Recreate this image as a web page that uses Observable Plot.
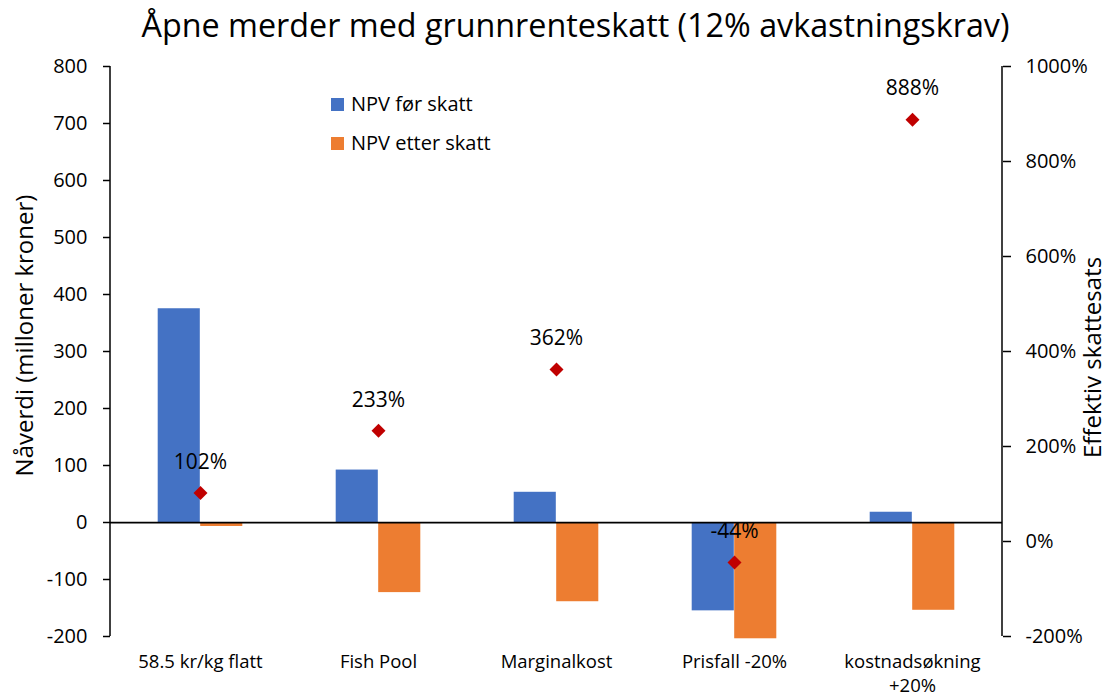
<!DOCTYPE html>
<html><head><meta charset="utf-8">
<script src="https://cdn.jsdelivr.net/npm/d3@7"></script>
<script src="https://cdn.jsdelivr.net/npm/@observablehq/plot@0.6"></script>
<style>
body{margin:0;background:#fff;font-family:"Open Sans",sans-serif;color:#000;}
#wrap{position:relative;width:1109px;height:698px;overflow:hidden;}
#title{position:relative;left:21px;height:52px;text-align:center;font-size:32.3px;line-height:49px;white-space:nowrap;}
#chart svg{display:block;}
.leg{position:absolute;left:331px;height:26px;line-height:26px;font-size:20px;display:flex;align-items:center;white-space:nowrap;}
.sw{width:13px;height:13px;margin-right:7px;flex:none;}
</style></head><body>
<div id="wrap">
<div id="title">Åpne merder med grunnrenteskatt (12% avkastningskrav)</div>
<div id="chart"></div>
</div>
<script>
// ---- data ----
const categories = ["58.5 kr/kg flatt", "Fish Pool", "Marginalkost", "Prisfall -20%", "kostnadsøkning\n+20%"];
const npvBefore = [375, 92, 53, -155, 18];
const npvAfter = [-7, -123, -139, -204, -154];
const taxRate = [102, 233, 362, -44, 888];
const seriesNames = ["NPV før skatt", "NPV etter skatt"];
const seriesColors = ["#4472C4", "#ED7D31"];
const leftTicks = [-200, -100, 0, 100, 200, 300, 400, 500, 600, 700, 800];
const rightTicks = [-200, 0, 200, 400, 600, 800, 1000];
const leftTitle = "Nåverdi (milloner kroner)";
const rightTitle = "Effektiv skattesats";

// ---- secondary axis mapping (right % axis onto left NPV scale) ----
const leftDomain = [-200, 800];
const rightDomain = [-200, 1000];
const toNpv = p => leftDomain[0] + (p - rightDomain[0]) * (leftDomain[1] - leftDomain[0]) / (rightDomain[1] - rightDomain[0]);
const fromNpv = v => rightDomain[0] + (v - leftDomain[0]) * (rightDomain[1] - rightDomain[0]) / (leftDomain[1] - leftDomain[0]);

// ---- layout ----
const W = 1109, H = 646;
const mL = 110, mR = 107, mT = 14, mB = 62;
const bw = (W - mL - mR) / categories.length;
const barW = 42.5;

const beforeRows = categories.map((c, i) => ({cat: c, value: npvBefore[i]}));
const afterRows = categories.map((c, i) => ({cat: c, value: npvAfter[i]}));
const rateRows = categories.map((c, i) => ({cat: c, rate: taxRate[i]}));

const axisLines = (index, scales, values, dims) => {
  const g = d3.create("svg:g");
  const {width, height, marginLeft, marginRight, marginTop, marginBottom} = dims;
  for (const x of [marginLeft, width - marginRight]) {
    g.append("line").attr("x1", x).attr("x2", x)
      .attr("y1", marginTop).attr("y2", height - marginBottom)
      .attr("stroke", "#000").attr("stroke-width", 1.5);
  }
  return g.node();
};

const chart = Plot.plot({
  width: W, height: H,
  marginLeft: mL, marginRight: mR, marginTop: mT, marginBottom: mB,
  style: {fontFamily: "Open Sans, sans-serif", fontSize: "20px", color: "#000", background: "#fff"},
  x: {domain: categories, padding: 0, axis: null},
  y: {domain: leftDomain, axis: null},
  marks: [
    Plot.barY(beforeRows, {x: "cat", y1: 0, y2: "value", fill: seriesColors[0], insetLeft: bw / 2 - barW, insetRight: bw / 2}),
    Plot.barY(afterRows, {x: "cat", y1: 0, y2: "value", fill: seriesColors[1], insetLeft: bw / 2, insetRight: bw / 2 - barW}),
    Plot.ruleY([0], {stroke: "#000", strokeWidth: 1.75}),
    axisLines,
    Plot.axisY({anchor: "left", ticks: leftTicks, tickFormat: d => String(d), tickSize: 7, tickPadding: 16, strokeWidth: 1.5, fontSize: 20, label: null}),
    Plot.axisY({anchor: "right", ticks: rightTicks.map(toNpv), tickFormat: v => Math.round(fromNpv(v)) + "%", tickSize: 8, tickPadding: 15, strokeWidth: 1.5, fontSize: 20, label: null}),
    Plot.axisX({anchor: "bottom", tickSize: 0, tickPadding: 14, fontSize: 18.5, lineHeight: 1.3, label: null}),
    Plot.dot(rateRows, {x: "cat", y: d => toNpv(d.rate), symbol: "diamond2", r: 6.3, fill: "#C00000", stroke: null}),
    Plot.text(rateRows, {x: "cat", y: d => toNpv(d.rate), text: d => d.rate + "%", dy: -31, fontSize: 21, fill: "#000"}),
    Plot.text([leftTitle], {frameAnchor: "left", text: d => d, textAnchor: "middle", rotate: -90, dx: -85, dy: -16, fontSize: 24, fill: "#000"}),
    Plot.text([rightTitle], {frameAnchor: "right", text: d => d, textAnchor: "middle", rotate: -90, dx: 91, dy: 6, fontSize: 24, fill: "#000"})
  ]
});
document.getElementById("chart").appendChild(chart);

// ---- legend ----
const wrap = document.getElementById("wrap");
const legTops = [91, 130];
seriesNames.forEach((name, i) => {
  const item = document.createElement("div");
  item.className = "leg";
  item.style.top = legTops[i] + "px";
  const sw = document.createElement("span");
  sw.className = "sw";
  sw.style.background = seriesColors[i];
  const label = document.createElement("span");
  label.textContent = name;
  item.appendChild(sw);
  item.appendChild(label);
  wrap.appendChild(item);
});
</script>
</body></html>
